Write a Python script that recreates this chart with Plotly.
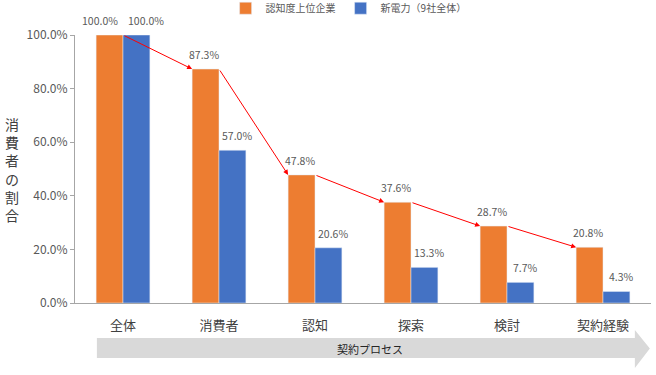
import plotly.graph_objects as go

categories = ["全体", "消費者", "認知", "探索", "検討", "契約経験"]
top_companies = [100.0, 87.3, 47.8, 37.6, 28.7, 20.8]
new_power = [100.0, 57.0, 20.6, 13.3, 7.7, 4.3]
series_names = ["認知度上位企業", "新電力（9社全体）"]
y_ticks = [0, 20, 40, 60, 80, 100]

FONT = "Noto Sans CJK JP, Noto Sans, sans-serif"
ORANGE = "#ED7D31"
BLUE = "#4472C4"
BW = 0.28
xs = list(range(len(categories)))

fig = go.Figure()
fig.add_trace(go.Bar(
    x=xs, y=top_companies, name=series_names[0], marker_color=ORANGE,
    width=BW, offset=-BW,
))
fig.add_trace(go.Bar(
    x=xs, y=new_power, name=series_names[1], marker_color=BLUE,
    width=BW, offset=0,
))

annotations = []
for i in range(len(categories) - 1):
    annotations.append(dict(
        x=i + 1 - BW, y=top_companies[i + 1], ax=i, ay=top_companies[i],
        xref="x", yref="y", axref="x", ayref="y", text="",
        showarrow=True, arrowhead=2, arrowsize=1, arrowwidth=1,
        arrowcolor="#FF0000", standoff=0,
    ))

# data labels
for i in xs:
    annotations.append(dict(
        x=i - BW / 2, y=top_companies[i], xref="x", yref="y",
        text=f"{top_companies[i]:.1f}%", showarrow=False, yanchor="bottom",
        yshift=5, xshift=-10 if i == 0 else -2,
        font=dict(size=10.5, color="#595959", family=FONT),
    ))
    annotations.append(dict(
        x=i + BW / 2, y=new_power[i], xref="x", yref="y",
        text=f"{new_power[i]:.1f}%", showarrow=False, yanchor="bottom",
        yshift=5, xshift=10 if i == 0 else 5,
        font=dict(size=10.5, color="#595959", family=FONT),
    ))

annotations.append(dict(
    x=-0.109, y=0.5, xref="paper", yref="paper", xanchor="center", yanchor="middle",
    text="<br>".join(list("消費者の割合")), showarrow=False,
    font=dict(size=14, color="#404040", family=FONT), align="center",
))
annotations.append(dict(
    x=0.512, y=-0.170, xref="paper", yref="paper", xanchor="center", yanchor="middle",
    text="契約プロセス",
    showarrow=False, font=dict(size=11, color="#262626", family=FONT),
))

shapes = [dict(
    type="path", xref="paper", yref="paper",
    path="M 0.038,-0.131 L 0.972,-0.131 L 0.972,-0.101 L 0.998,-0.170 "
         "L 0.972,-0.243 L 0.972,-0.205 L 0.038,-0.205 Z",
    fillcolor="#D9D9D9", line=dict(width=0), layer="below",
)]

fig.update_layout(
    width=656, height=375,
    margin=dict(l=75, r=5, t=35, b=72, autoexpand=False),
    paper_bgcolor="white", plot_bgcolor="white",
    barmode="overlay",
    font=dict(family=FONT, color="#595959"),
    legend=dict(orientation="h", x=0.475, xanchor="center", y=1.1, yanchor="middle",
                font=dict(size=10, color="#595959", family=FONT),
                itemwidth=30, bgcolor="rgba(0,0,0,0)"),
    annotations=annotations, shapes=shapes,
    xaxis=dict(range=[-0.5, 5.5], tickvals=xs, ticktext=categories,
               showgrid=False, showline=True, linecolor="#A6A6A6", linewidth=1,
               ticks="", ticklabelstandoff=10,
               tickfont=dict(size=13, color="#404040", family=FONT)),
    yaxis=dict(range=[0, 100], tickvals=y_ticks, ticktext=[f"{v:.1f}%" for v in y_ticks],
               showgrid=False, showline=True, linecolor="#A6A6A6", linewidth=1,
               ticks="outside", ticklen=4, tickcolor="#A6A6A6", zeroline=False,
               tickfont=dict(size=12, color="#595959", family=FONT)),
)

fig.write_html("out.html", config={"displayModeBar": False},
               post_script="document.body.style.margin='0';")
